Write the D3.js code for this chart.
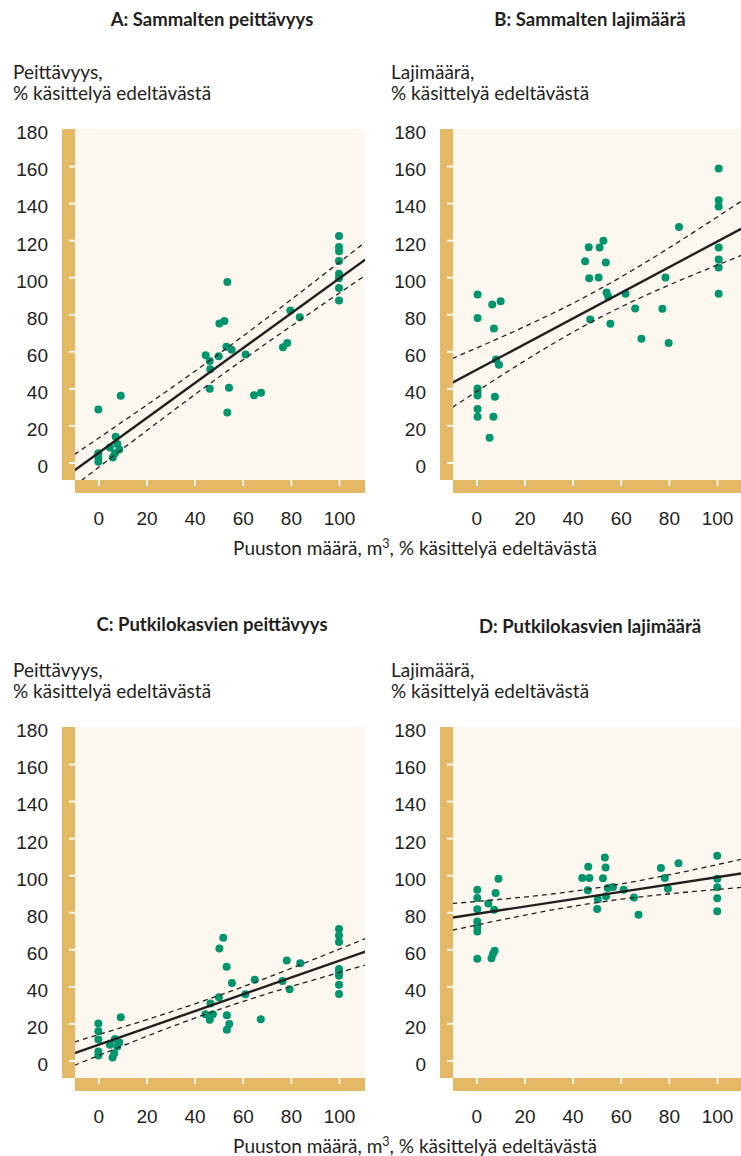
<!DOCTYPE html>
<html>
<head>
<meta charset="utf-8">
<script src="https://cdn.jsdelivr.net/npm/d3@7"></script>
<style>
  body { margin: 0; background: #fff; }
  svg { display: block; font-family: Lato, "Open Sans", sans-serif; }
  .tick line { stroke: #fff; stroke-width: 1.8; }
  .tick text { fill: #231f20; font-size: 19px; }
  .title { font-weight: bold; font-size: 18.5px; fill: #231f20; }
  .ytitle, .xtitle { font-size: 19px; fill: #231f20; }
</style>
</head>
<body>
<div class="chart"></div>
<script>
// Data
const xTicks = [0, 20, 40, 60, 80, 100];
const yTicks = [0, 20, 40, 60, 80, 100, 120, 140, 160, 180];
const panelTitles = ["A: Sammalten peittävyys", "B: Sammalten lajimäärä",
  "C: Putkilokasvien peittävyys", "D: Putkilokasvien lajimäärä"];
const yTitles = ["Peittävyys,", "Lajimäärä,", "Peittävyys,", "Lajimäärä,"];
const yTitleSub = "% käsittelyä edeltävästä";

// A: moss cover
const mossCoverX = [0, 0, 0, 0, 4.8, 6, 6.9, 7.2, 7.9, 8.7, 9.3, 44.6, 46.3, 46.5, 46.3,
  50, 50.3, 52.4, 53.6, 53.2, 55.4, 54.3, 53.6, 61.2, 64.7, 67.6, 76.7, 78.5, 79.8, 83.7,
  100, 100, 100, 100, 100, 100, 100, 100];
const mossCoverY = [28.6, 4.9, 2.7, 0.4, 8.1, 2.7, 4.9, 13.8, 9.9, 7.0, 36, 57.9, 54.8, 50.3, 39.7,
  57.3, 75, 76.4, 97.4, 62.4, 60.8, 40.3, 27, 58.2, 36.3, 37.6, 62.2, 64.4, 82, 78.4,
  122.2, 116.3, 114, 108.8, 101.8, 99.4, 94.2, 87.4];
const mossCoverFit = [[-10, -4.4], [111, 109.6]];
const mossCoverUpper = [[-10, 4.2], [50, 58.5], [111, 119]];
const mossCoverLower = [[-10, -12.7], [50, 46], [111, 101]];

// B: moss species
const mossSpeciesX = [0.5, 0.5, 0.5, 0.5, 0.5, 0.5, 0.5, 6.6, 7.3, 10.1, 8.2, 9.4, 7.7, 7.1, 5.5,
  45.2, 46.7, 46.9, 47.3, 50.8, 51.2, 52.8, 53.8, 54.1, 54.8, 55.7, 62, 66, 68.6,
  77.3, 78.6, 79.9, 84.2, 100.7, 100.7, 100.7, 100.7, 100.7, 100.7, 100.7];
const mossSpeciesY = [90.6, 78, 39.9, 38.1, 36.1, 28.8, 24.6, 85.2, 72.3, 87, 55.6, 52.7, 35.4, 24.6, 13.3,
  108.6, 116.1, 99.4, 77.1, 99.8, 116, 119.7, 107.9, 91.7, 89.4, 74.8, 91.1, 83.1, 66.7,
  82.9, 99.8, 64.5, 127.1, 158.7, 141.5, 138.1, 116, 109.5, 105.2, 91];
const mossSpeciesFit = [[-10, 43], [111, 126.8]];
const mossSpeciesUpper = [[-10, 56.1], [50, 92.7], [111, 141.8]];
const mossSpeciesLower = [[-10, 29.7], [50, 77.3], [111, 112.2]];

// C: vascular plant cover
const plantCoverX = [0, 0, 0, 0, 0, 4.8, 5.9, 6.6, 6.9, 7.9, 8.7, 9.3, 44.5, 46.3, 46.6, 47.6,
  50.1, 50.3, 51.9, 53.3, 53.4, 54.4, 53.4, 55.5, 61.1, 65, 67.5, 76.5, 78.3, 79.5, 83.9,
  100, 100, 100, 100, 100, 100, 100, 100];
const plantCoverY = [19.9, 15.8, 11.3, 4.8, 2.7, 8.4, 1.6, 3.9, 11.5, 7.5, 9.7, 23.3, 24.9, 21.9, 30.7, 24.9,
  34.1, 60.4, 66.2, 50.6, 24.4, 19.6, 16.5, 41.8, 35.7, 43.6, 22.2, 42.9, 54, 38.4, 52.4,
  70.9, 67.4, 63.9, 49.3, 47.7, 45.7, 40.9, 35.9];
const plantCoverFit = [[-10, 3.9], [111, 58.7]];
const plantCoverUpper = [[-10, 9.9], [50, 35], [111, 65.8]];
const plantCoverLower = [[-10, -2.7], [50, 27.4], [111, 51.5]];

// D: vascular plant species
const plantSpeciesX = [0.4, 0.4, 0.4, 0.4, 0.4, 0.4, 0.4, 5, 6.3, 6.9, 7.6, 7.4, 8, 9.2,
  44, 46.3, 46.5, 47, 50.2, 50.5, 52.6, 53.4, 53.7, 53.9, 54.6, 56.8, 61.2, 65.5, 67.4,
  76.7, 78.3, 79.6, 84, 100.1, 100.1, 100.1, 100.1, 100.1];
const plantSpeciesY = [92.2, 87.7, 81.6, 75, 72.1, 69.6, 54.9, 84.7, 55.1, 57.4, 59.2, 81.4, 90.4, 98.1,
  98.5, 91.8, 104.6, 98.5, 81.8, 87, 98.3, 109.6, 104.2, 88.6, 93.1, 93.6, 92.2, 87.9, 78.6,
  103.9, 98.5, 92.7, 106.5, 110.5, 98.1, 93.5, 87.5, 80.5];
const plantSpeciesFit = [[-10, 77.1], [111, 101.1]];
const plantSpeciesUpper = [[-10, 84.7], [50, 93.1], [111, 108.8]];
const plantSpeciesLower = [[-10, 70.3], [50, 85.2], [111, 93.5]];

// Setup
const width = 741, height = 1156;
const plotW = 290, plotH = 351, bar = 13;
const colors = { bar: "#e5b865", bg: "#fdf8ef", dot: "#00956d", line: "#231f20" };

const x = d3.scaleLinear().domain([-9.7, 110.8]).range([0, plotW]);
const y = d3.scaleLinear().domain([-9.5, 180]).range([plotH, 0]);

const panels = [
  { left: 75, top: 129, xs: mossCoverX, ys: mossCoverY, fit: mossCoverFit, up: mossCoverUpper, lo: mossCoverLower },
  { left: 453, top: 129, xs: mossSpeciesX, ys: mossSpeciesY, fit: mossSpeciesFit, up: mossSpeciesUpper, lo: mossSpeciesLower },
  { left: 75, top: 727, xs: plantCoverX, ys: plantCoverY, fit: plantCoverFit, up: plantCoverUpper, lo: plantCoverLower },
  { left: 453, top: 727, xs: plantSpeciesX, ys: plantSpeciesY, fit: plantSpeciesFit, up: plantSpeciesUpper, lo: plantSpeciesLower }
];
const titleY = [26, 26, 631, 633];

const svg = d3.select(".chart").append("svg")
  .attr("width", width)
  .attr("height", height);

const line = d3.line().x(d => x(d[0])).y(d => y(d[1]));
const band = d3.line().x(d => x(d[0])).y(d => y(d[1])).curve(d3.curveNatural);

panels.forEach((p, i) => {
  const g = svg.append("g").attr("transform", `translate(${p.left},${p.top})`);

  // frame
  g.append("rect").attr("width", plotW).attr("height", plotH).attr("fill", colors.bg);
  g.append("rect").attr("x", -bar).attr("width", bar).attr("height", plotH).attr("fill", colors.bar);
  g.append("rect").attr("y", plotH).attr("width", plotW).attr("height", bar).attr("fill", colors.bar);

  // axes
  const yAxis = g.append("g")
    .call(d3.axisLeft(y).tickValues(yTicks).tickSize(6).tickPadding(21))
    .call(a => a.select(".domain").remove());
  yAxis.selectAll("text").attr("dy", "0.52em");
  yAxis.selectAll(".tick").filter(d => d === 180).select("line").remove();

  g.append("g")
    .attr("transform", `translate(0,${plotH})`)
    .call(d3.axisBottom(x).tickValues(xTicks).tickSize(6).tickPadding(26))
    .call(a => a.select(".domain").remove());

  // titles
  svg.append("text")
    .attr("class", "title")
    .attr("x", p.left + plotW / 2 - 8)
    .attr("y", titleY[i])
    .attr("text-anchor", "middle")
    .text(panelTitles[i]);

  const yt = svg.append("text")
    .attr("class", "ytitle")
    .attr("x", p.left - 62)
    .attr("y", p.top - 50);
  yt.append("tspan").text(yTitles[i]);
  yt.append("tspan").attr("x", p.left - 62).attr("dy", 21).text(yTitleSub);

  // clip
  const clipId = "clip" + i;
  g.append("clipPath").attr("id", clipId)
    .append("rect").attr("width", plotW).attr("height", plotH);
  const inner = g.append("g").attr("clip-path", `url(#${clipId})`);

  // points
  inner.selectAll("circle")
    .data(p.xs.map((v, j) => [v, p.ys[j]]))
    .enter()
    .append("circle")
    .attr("cx", d => x(d[0]))
    .attr("cy", d => y(d[1]))
    .attr("r", 4)
    .attr("fill", colors.dot);

  // fit and confidence band
  [p.up, p.lo].forEach(b => {
    inner.append("path")
      .attr("d", band(b))
      .attr("fill", "none")
      .attr("stroke", colors.line)
      .attr("stroke-width", 1.3)
      .attr("stroke-dasharray", "5,4");
  });
  inner.append("path")
    .attr("d", line(p.fit))
    .attr("fill", "none")
    .attr("stroke", colors.line)
    .attr("stroke-width", 2.4);
});

// x-axis titles
[129, 727].forEach(top => {
  const t = svg.append("text")
    .attr("class", "xtitle")
    .attr("x", 415)
    .attr("y", top + plotH + 75)
    .attr("text-anchor", "middle");
  t.append("tspan").text("Puuston määrä, m");
  t.append("tspan").attr("dy", -7).style("font-size", "12.5px").text("3");
  t.append("tspan").attr("dy", 7).text(", % käsittelyä edeltävästä");
});
</script>
</body>
</html>
